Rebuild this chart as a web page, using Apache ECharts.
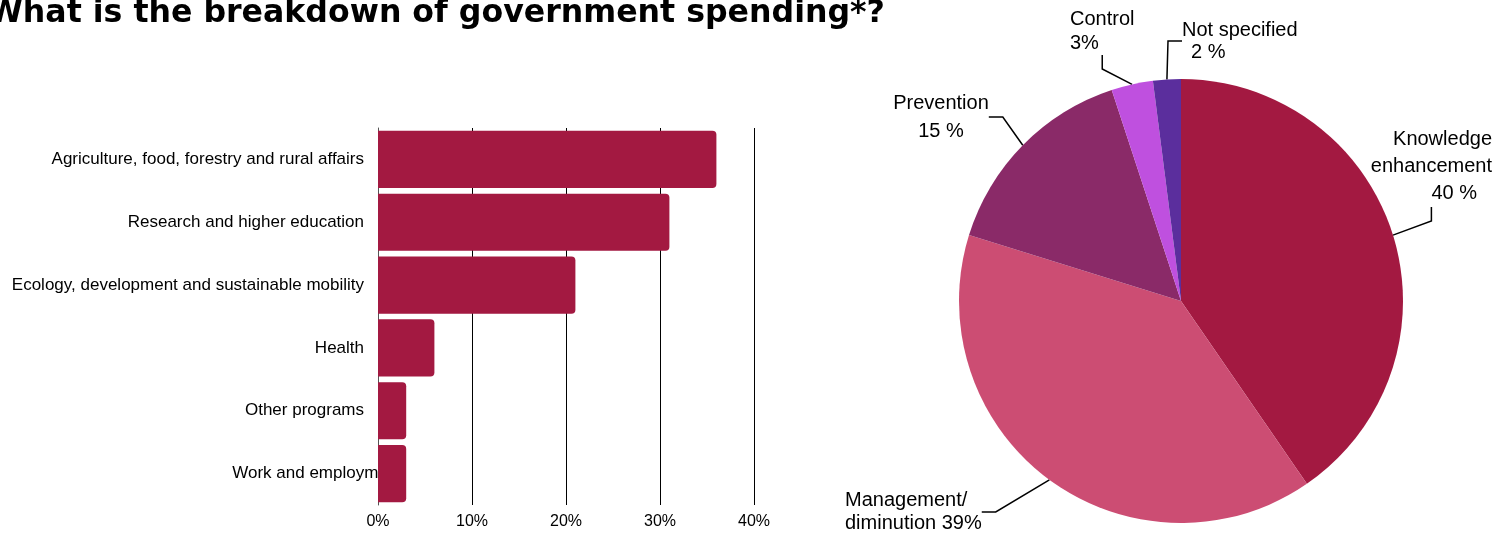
<!DOCTYPE html>
<html>
<head>
<meta charset="utf-8">
<script src="https://cdn.jsdelivr.net/npm/echarts@6/dist/echarts.min.js"></script>
<style>
  html, body { margin: 0; padding: 0; background: #fff; }
  #chart { width: 1508px; height: 533px; }
</style>
</head>
<body>
<div id="chart"></div>
<script>
// bar chart: share of spending by program (%)
const programs = [
  'Agriculture, food, forestry and rural affairs',
  'Research and higher education',
  'Ecology, development and sustainable mobility',
  'Health',
  'Other programs',
  'Work and employment'
]
const programShares = [36, 31, 21, 6, 3, 3]
const shareTicks = [0, 10, 20, 30, 40]

// pie chart: share of spending by purpose (%)
const purposes = ['Knowledge\nenhancement', 'Management/\ndiminution', 'Prevention', 'Control', 'Not specified']
const purposeShares = [40, 39, 15, 3, 2]
const purposeUnits = [' %', '%', ' %', '%', ' %']
const purposeColors = ['#a31941', '#cc4d73', '#8a2a68', '#bf50df', '#5b2e9d']

// where each pie label sits (top anchor of the text block)
const labelSpots = [
  { x: 1492, y: 126, align: 'right', lh: 27, rich: 'vk' },
  { x: 845, y: 489, align: 'left', lh: 23, rich: null },
  { x: 941, y: 89, align: 'center', lh: 28, rich: 'v' },
  { x: 1070, y: 7, align: 'left', lh: 24, rich: 'v' },
  { x: 1182, y: 19, align: 'left', lh: 22, rich: 'vn' }
]

const chart = echarts.init(document.getElementById('chart'))

const labelFont = 'Liberation Sans'

const option = {
  animation: false,
  title: {
    text: 'What is the breakdown of government spending*?',
    left: -12,
    top: -2,
    padding: 0,
    textStyle: { fontSize: 31.6, fontWeight: 'bold', fontFamily: 'DejaVu Sans', color: '#000' }
  },
  grid: { left: 378, top: 128, width: 376, height: 377 },
  xAxis: {
    type: 'value',
    min: shareTicks[0],
    max: shareTicks[shareTicks.length - 1],
    interval: shareTicks[1] - shareTicks[0],
    axisLine: { show: false },
    axisTick: { show: false },
    axisLabel: { formatter: '{value}%', fontSize: 16, color: '#000', margin: 9, fontFamily: labelFont },
    splitLine: { lineStyle: { color: '#000', width: 1 } }
  },
  yAxis: {
    type: 'category',
    inverse: true,
    data: programs.map((name, i) => {
      // last label runs under the bar in the original
      if (i === programs.length - 1) {
        return { value: name, textStyle: { padding: [0, -38, 0, 0] } }
      }
      return name
    }),
    axisLine: { show: true, lineStyle: { color: '#555', width: 1 } },
    axisTick: { show: false },
    axisLabel: { fontSize: 17, color: '#000', margin: 14, fontFamily: labelFont }
  },
  series: [
    {
      type: 'bar',
      data: programShares,
      barCategoryGap: '9%',
      itemStyle: { color: '#a31941', borderRadius: [0, 4, 4, 0] }
    },
    {
      type: 'pie',
      center: [1181, 301],
      radius: 222,
      startAngle: 90,
      clockwise: true,
      avoidLabelOverlap: false,
      data: purposes.map((name, i) => ({
        name,
        value: purposeShares[i],
        itemStyle: { color: purposeColors[i] },
        label: { lineHeight: labelSpots[i].lh }
      })),
      label: {
        show: true,
        position: 'outside',
        fontSize: 20,
        color: '#000',
        fontFamily: labelFont,
        formatter: p => {
          const i = p.dataIndex
          const val = p.value + purposeUnits[i]
          const spot = labelSpots[i]
          if (!spot.rich) return p.name + ' ' + val
          return p.name + '\n{' + spot.rich + '|' + val + '}'
        },
        rich: {
          v: { fontSize: 20, color: '#000', fontFamily: labelFont },
          vk: { fontSize: 20, color: '#000', fontFamily: labelFont, padding: [0, 15, 0, 0] },
          vn: { fontSize: 20, color: '#000', fontFamily: labelFont, padding: [0, 0, 0, 9] }
        }
      },
      labelLine: {
        show: true,
        length: 8,
        length2: 14,
        lineStyle: { color: '#000', width: 1.5 }
      },
      labelLayout: p => {
        const s = labelSpots[p.dataIndex]
        return { x: s.x, y: s.y, align: s.align, verticalAlign: 'top' }
      }
    }
  ]
}

chart.setOption(option)
</script>
</body>
</html>
